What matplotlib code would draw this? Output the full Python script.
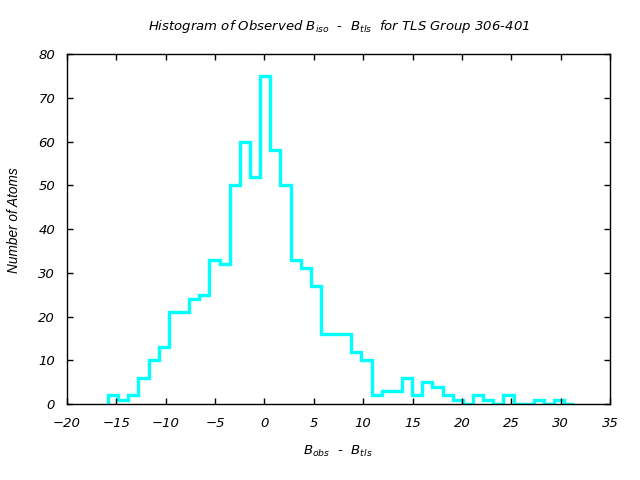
import numpy as np
import matplotlib
matplotlib.use('Agg')
import matplotlib.pyplot as plt

# bin range and counts
bin_lo = -15.84
bin_hi = 31.39
counts = [2, 1, 2, 6, 10, 13, 21, 21, 24, 25,
          33, 32, 50, 60, 52, 75, 58, 50, 33, 31,
          27, 16, 16, 16, 12, 10, 2, 3, 3, 6,
          2, 5, 4, 2, 1, 0, 2, 1, 0, 2,
          0, 0, 1, 0, 1, 0]
xticks = [-20, -15, -10, -5, 0, 5, 10, 15, 20, 25, 30, 35]
yticks = [0, 10, 20, 30, 40, 50, 60, 70, 80]

plt.rcParams['font.family'] = 'DejaVu Sans'
plt.rcParams['font.style'] = 'italic'
plt.rcParams['mathtext.fontset'] = 'custom'
plt.rcParams['mathtext.it'] = 'DejaVu Sans:italic'
plt.rcParams['mathtext.rm'] = 'DejaVu Sans:italic'

edges = np.linspace(bin_lo, bin_hi, len(counts) + 1)

fig = plt.figure(figsize=(6.4, 4.8), dpi=100)
ax = fig.add_axes([0.1047, 0.1583, 0.8484, 0.7292])

ax.stairs(counts, edges, color='#00ffff', linewidth=2.4, baseline=0)

ax.set_xlim(-20, 35)
ax.set_ylim(0, 80)
ax.set_xticks(xticks)
ax.set_yticks(yticks)
ax.tick_params(axis='x', pad=9)
ax.tick_params(axis='y', pad=8.5)
ax.tick_params(direction='in', length=4, width=1, top=True, right=True,
               labelsize=9.5)
for lab in ax.get_xticklabels() + ax.get_yticklabels():
    lab.set_fontstyle('italic')
for s in ax.spines.values():
    s.set_linewidth(1)

ax.set_title(r'Histogram of Observed B$_{iso}$  -  B$_{tls}$  for TLS Group 306-401',
             fontsize=9.5, fontstyle='italic', pad=17)
fig.text(338 / 640, 1 - 451 / 480, r'B$_{obs}$  -  B$_{tls}$', fontsize=9.5,
         fontstyle='italic', ha='center', va='center')
fig.text(14 / 640, 1 - 220 / 480, 'Number of Atoms', fontsize=9.8,
         family='Liberation Sans', fontstyle='italic', rotation=90,
         ha='center', va='center')

fig.savefig('out.png', dpi=100)
